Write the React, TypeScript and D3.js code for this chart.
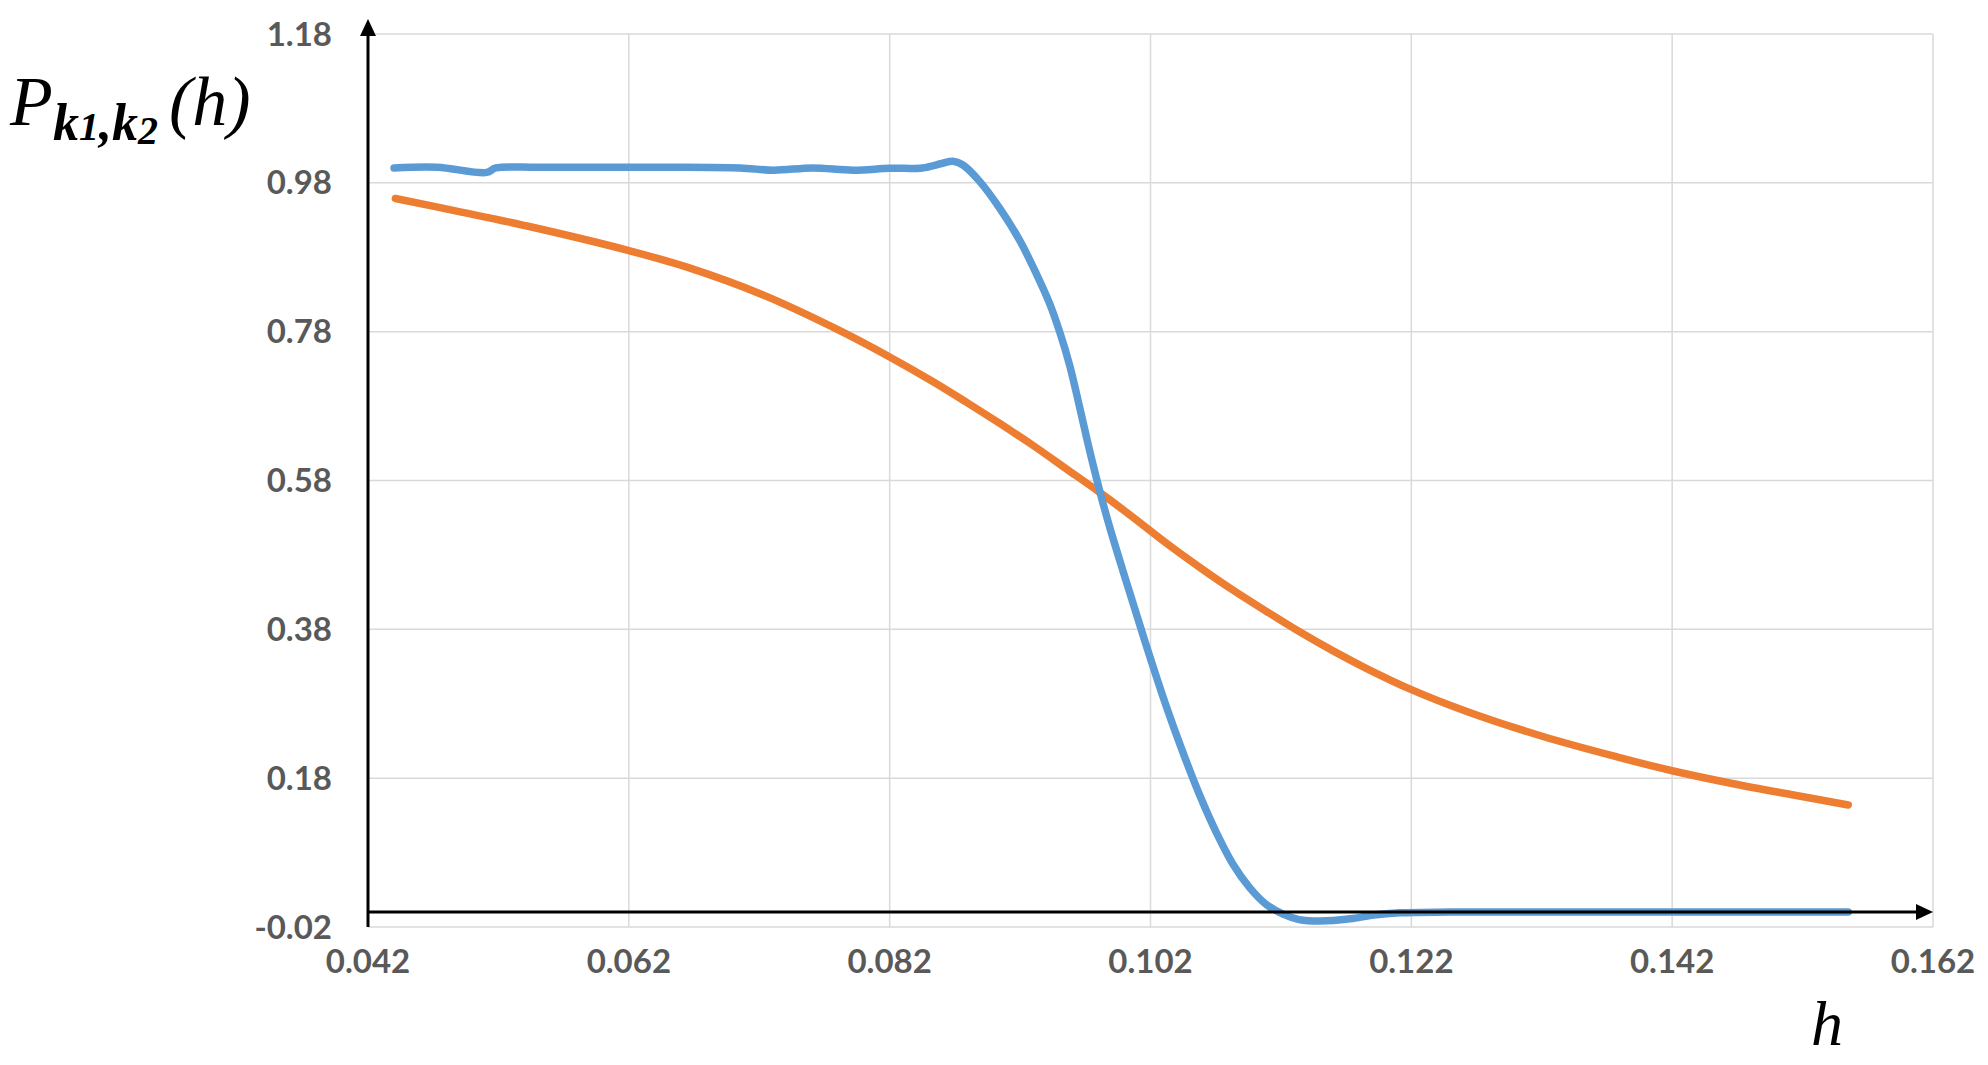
import React from "react";
import * as d3 from "d3";

const blueH = [0.0440, 0.0473, 0.0511, 0.0518, 0.0550, 0.0600, 0.0650, 0.0705, 0.0731, 0.0761, 0.0792, 0.0820, 0.0845, 0.0860, 0.08685, 0.08762, 0.0889, 0.09043, 0.09196, 0.09324, 0.09426, 0.09503, 0.0958, 0.09656, 0.09732, 0.09809, 0.09886, 0.09988, 0.1007, 0.1019, 0.1032, 0.1045, 0.1058, 0.1071, 0.1083, 0.1096, 0.1109, 0.1122, 0.1134, 0.1150, 0.1173, 0.1191, 0.1211, 0.1250, 0.1350, 0.1450, 0.1555];
const blueP = [1.000, 1.001, 0.994, 1.000, 1.001, 1.001, 1.001, 1.000, 0.997, 1.000, 0.997, 0.9995, 1.000, 1.006, 1.009, 1.004, 0.982, 0.946, 0.903, 0.858, 0.818, 0.780, 0.735, 0.679, 0.621, 0.567, 0.518, 0.459, 0.413, 0.346, 0.277, 0.214, 0.156, 0.105, 0.065, 0.033, 0.010, -0.003, -0.010, -0.012, -0.009, -0.004, -0.001, 0, 0, 0, 0];

const orangeH = [0.0441, 0.0488, 0.0547, 0.0620, 0.0664, 0.0722, 0.0781, 0.0820, 0.0853, 0.0879, 0.0905, 0.0930, 0.0956, 0.0981, 0.1007, 0.1032, 0.1058, 0.1083, 0.1109, 0.1134, 0.1160, 0.1185, 0.1220, 0.1262, 0.1321, 0.1379, 0.1420, 0.1467, 0.1511, 0.1555];
const orangeP = [0.959, 0.942, 0.920, 0.889, 0.867, 0.830, 0.782, 0.746, 0.713, 0.685, 0.656, 0.627, 0.595, 0.564, 0.530, 0.496, 0.463, 0.433, 0.404, 0.377, 0.351, 0.328, 0.299, 0.270, 0.236, 0.208, 0.190, 0.1725, 0.158, 0.144];

const xTicks = [0.042, 0.062, 0.082, 0.102, 0.122, 0.142, 0.162];
const yTicks = [-0.02, 0.18, 0.38, 0.58, 0.78, 0.98, 1.18];

const W = 1988;
const H = 1065;

export default function App() {
  const x = d3.scaleLinear().domain([0.042, 0.162]).range([368, 1933]);
  const y = d3.scaleLinear().domain([-0.02, 1.18]).range([927, 34]);

  const line = d3
    .line<[number, number]>()
    .x((d) => x(d[0]))
    .y((d) => y(d[1]))
    .curve(d3.curveCatmullRom.alpha(0.5));

  const blue = blueH.map((h, i) => [h, blueP[i]] as [number, number]);
  const orange = orangeH.map((h, i) => [h, orangeP[i]] as [number, number]);

  const x0 = x(0.042);
  const y0 = y(0);
  const tickFont = "Lato, 'Open Sans', sans-serif";

  return (
    <svg
      width={W}
      height={H}
      style={{ position: "fixed", left: 0, top: 0, background: "#fff" }}
    >
      <rect x={0} y={0} width={W} height={H} fill="#fff" />
      {yTicks.map((t) => (
        <line key={"gy" + t} x1={x(0.042)} x2={x(0.162)} y1={y(t)} y2={y(t)} stroke="#D9D9D9" strokeWidth={1.5} />
      ))}
      {xTicks.map((t) => (
        <line key={"gx" + t} x1={x(t)} x2={x(t)} y1={y(-0.02)} y2={y(1.18)} stroke="#D9D9D9" strokeWidth={1.5} />
      ))}
      {yTicks.map((t) => (
        <text
          key={"ly" + t}
          x={332}
          y={y(t)}
          dy="0.35em"
          textAnchor="end"
          fontFamily={tickFont}
          fontWeight={700}
          fontSize={33}
          fill="#595959"
        >
          {t.toFixed(2)}
        </text>
      ))}
      {xTicks.map((t) => (
        <text
          key={"lx" + t}
          x={x(t)}
          y={973}
          textAnchor="middle"
          fontFamily={tickFont}
          fontWeight={700}
          fontSize={33}
          fill="#595959"
        >
          {t.toFixed(3)}
        </text>
      ))}
      <path d={line(orange) || ""} fill="none" stroke="#ED7D31" strokeWidth={7.5} strokeLinecap="round" strokeLinejoin="round" />
      <path d={line(blue) || ""} fill="none" stroke="#5B9BD5" strokeWidth={7.5} strokeLinecap="round" strokeLinejoin="round" />
      <line x1={x0} x2={x0} y1={y(-0.02)} y2={34} stroke="#000" strokeWidth={3} />
      <path d={`M${x0},19 L${x0 - 8},36 L${x0 + 8},36 Z`} fill="#000" />
      <line x1={x0} x2={1918} y1={y0} y2={y0} stroke="#000" strokeWidth={3} />
      <path d={`M1933,${y0} L1916,${y0 - 8} L1916,${y0 + 8} Z`} fill="#000" />
      <text x={1827} y={1045} textAnchor="middle" fontFamily="'Liberation Serif', serif" fontStyle="italic" fontSize={64} fill="#000">
        h
      </text>
      <text x={10} y={125} fontFamily="'Liberation Serif', serif" fontStyle="italic" fontSize={70} fill="#000">
        P
      </text>
      <text x={53} y={140} fontFamily="'Liberation Serif', serif" fontStyle="italic" fontWeight={700} fill="#000">
        <tspan fontSize={52}>k</tspan>
        <tspan fontSize={40}>1</tspan>
        <tspan fontSize={52}>,</tspan>
        <tspan fontSize={52}>k</tspan>
        <tspan fontSize={40} dy={4}>2</tspan>
      </text>
      <text x={169} y={125} fontFamily="'Liberation Serif', serif" fontStyle="italic" fontSize={70} fill="#000">
        (h)
      </text>
    </svg>
  );
}
